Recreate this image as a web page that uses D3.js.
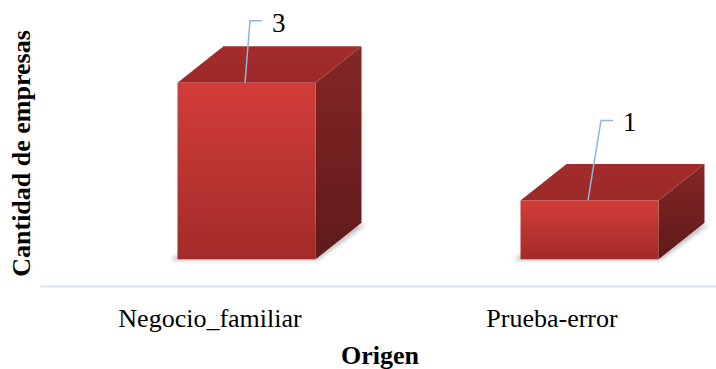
<!DOCTYPE html>
<html>
<head>
<meta charset="utf-8">
<script src="https://cdn.jsdelivr.net/npm/d3@7"></script>
<style>
  html, body { margin: 0; padding: 0; background: #fff; }
  svg { display: block; }
  text { font-family: "Liberation Serif", "Times New Roman", serif; fill: #000; }
</style>
</head>
<body>
<svg id="chart" width="716" height="369"></svg>
<script>
// Chart data
const categories = ["Negocio_familiar", "Prueba-error"];
const values = [3, 1];
const xTitle = "Origen";
const yTitle = "Cantidad de empresas";

const W = 716, H = 369;
const svg = d3.select("#chart");
const defs = svg.append("defs");

// 3D extrusion depth of each column
const depthX = 46, depthY = -36.5;
const barWidth = 138;

// Scales
const y = d3.scaleLinear().domain([0, 3]).range([259.3, 82.7]);
const xBar = d3.scaleBand().domain(categories).range([75, 761]);
const xLabel = d3.scaleBand().domain(categories).range([39, 723]);

// Gradients for the faces
const gFront = defs.append("linearGradient").attr("id", "gFront")
  .attr("x1", 0).attr("y1", 0).attr("x2", 0).attr("y2", 1);
gFront.append("stop").attr("offset", "0%").attr("stop-color", "#d23d39");
gFront.append("stop").attr("offset", "100%").attr("stop-color", "#a22b29");

const gSide = defs.append("linearGradient").attr("id", "gSide")
  .attr("x1", 0).attr("y1", 0).attr("x2", 0).attr("y2", 1);
gSide.append("stop").attr("offset", "0%").attr("stop-color", "#852626");
gSide.append("stop").attr("offset", "100%").attr("stop-color", "#5e1a1a");

const gTop = defs.append("linearGradient").attr("id", "gTop")
  .attr("x1", 0).attr("y1", 0).attr("x2", 0).attr("y2", 1);
gTop.append("stop").attr("offset", "0%").attr("stop-color", "#a32c2b");
gTop.append("stop").attr("offset", "100%").attr("stop-color", "#9a2a28");

defs.append("filter").attr("id", "shadowBlur")
  .attr("x", "-20%").attr("y", "-20%").attr("width", "140%").attr("height", "140%")
  .append("feGaussianBlur").attr("stdDeviation", 2.2);

// Category axis line
svg.append("line")
  .attr("x1", 40).attr("x2", W)
  .attr("y1", 286.5).attr("y2", 286.5)
  .attr("stroke", "#dbe3f1").attr("stroke-width", 2);

const bars = svg.append("g").selectAll("g")
  .data(categories.map((c, i) => ({ c, v: values[i] })))
  .join("g");

const pts = a => a.map(p => p.join(",")).join(" ");

bars.each(function (d) {
  const g = d3.select(this);
  const x0 = xBar(d.c) + (xBar.bandwidth() - barWidth) / 2;
  const x1 = x0 + barWidth;
  const yb = y(0), yt = y(d.v);

  // soft floor shadow
  g.append("polygon")
    .attr("points", pts([[x0 - 7, yb + 1], [x1 + 2, yb + 1], [x1 + depthX + 4, yb + depthY + 2], [x0 + depthX, yb + depthY]]))
    .attr("fill", "#8a8a8a").attr("opacity", 0.55)
    .attr("filter", "url(#shadowBlur)");

  // side face
  g.append("polygon")
    .attr("points", pts([[x1, yt], [x1 + depthX, yt + depthY], [x1 + depthX, yb + depthY], [x1, yb]]))
    .attr("fill", "url(#gSide)");

  // top face
  g.append("polygon")
    .attr("points", pts([[x0, yt], [x0 + depthX, yt + depthY], [x1 + depthX, yt + depthY], [x1, yt]]))
    .attr("fill", "url(#gTop)");

  // front face
  g.append("rect")
    .attr("x", x0).attr("y", yt)
    .attr("width", barWidth).attr("height", yb - yt)
    .attr("fill", "url(#gFront)");
});

// Value callouts with leader lines
const calloutShift = [[3.5, -62], [11.5, -80]];
bars.each(function (d, i) {
  const g = d3.select(this);
  const cx = xBar(d.c) + xBar.bandwidth() / 2;
  const yt = y(d.v);
  const [sx, sy] = calloutShift[i];
  const ex = cx + sx, ey = yt + sy;
  g.append("polyline")
    .attr("points", pts([[cx - 1.5, yt], [ex, ey], [ex + 12, ey]]))
    .attr("fill", "none")
    .attr("stroke", "#8fb4e3").attr("stroke-width", 1.5);
  g.append("text")
    .attr("x", ex + 22).attr("y", ey + 11)
    .attr("font-size", 27)
    .text(d3.format("d")(d.v));
});

// Category tick labels
svg.append("g").selectAll("text")
  .data(categories)
  .join("text")
  .attr("x", d => xLabel(d) + xLabel.bandwidth() / 2)
  .attr("y", 327)
  .attr("text-anchor", "middle")
  .attr("font-size", 26)
  .text(d => d);

// Axis titles
svg.append("text")
  .attr("x", 380).attr("y", 364)
  .attr("text-anchor", "middle")
  .attr("font-size", 26).attr("font-weight", "bold")
  .text(xTitle);

svg.append("text")
  .attr("transform", "translate(30,153.5) rotate(-90)")
  .attr("text-anchor", "middle")
  .attr("font-size", 26).attr("font-weight", "bold")
  .text(yTitle);
</script>
</body>
</html>
